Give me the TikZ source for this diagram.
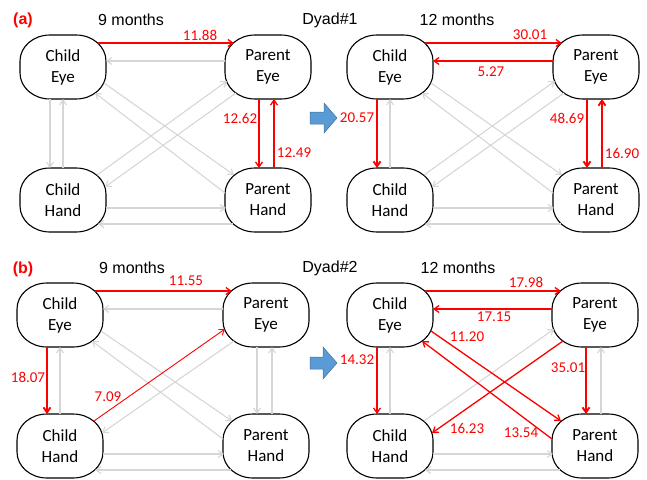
\documentclass[tikz,border=0pt]{standalone}
\usepackage{fontspec}
\setmainfont{Carlito}
\newfontfamily\arialf{Liberation Sans}
\usetikzlibrary{arrows.meta,calc}
\definecolor{edgered}{RGB}{255,0,0}
\definecolor{edgegray}{RGB}{214,214,214}
\definecolor{bluefill}{RGB}{91,155,213}
\definecolor{blueline}{RGB}{65,113,156}
\tikzset{
  state/.style={minimum width=86pt,minimum height=64pt,inner sep=0pt,align=center,font=\fontsize{17}{21}\selectfont},
  border/.style={draw=black,line width=1.1pt,fill=white},
  tip/.style={-{Straight Barb[length=5pt,width=7pt]}},
  gr/.style={tip,draw=edgegray,line width=1.1pt},
  rd/.style={tip,draw=edgered,line width=1.3pt},
  rdthin/.style={tip,draw=edgered,line width=0.9pt},
  rdthick/.style={tip,draw=edgered,line width=1.9pt},
  lab/.style={text=edgered,font=\fontsize{15}{15}\selectfont,inner sep=0pt},
  ttl/.style={font=\arialf\fontsize{16}{16}\selectfont,inner sep=0pt},
  pnl/.style={text=edgered,font=\arialf\bfseries\fontsize{16}{16}\selectfont,inner sep=0pt},
  bigarrow/.style={fill=bluefill,draw=blueline,line width=0.5pt}
}
\newcommand\statenode[4]{%
  \coordinate (#1) at (#2,#3);
  \draw[border] ($(#1)+(-43,-6)$) .. controls ($(#1)+(-43,-20.4)$) and ($(#1)+(-29.6,-32)$) .. ($(#1)+(-13,-32)$)
    -- ($(#1)+(13,-32)$) .. controls ($(#1)+(29.6,-32)$) and ($(#1)+(43,-20.4)$) .. ($(#1)+(43,-6)$)
    -- ($(#1)+(43,6)$) .. controls ($(#1)+(43,20.4)$) and ($(#1)+(29.6,32)$) .. ($(#1)+(13,32)$)
    -- ($(#1)+(-13,32)$) .. controls ($(#1)+(-29.6,32)$) and ($(#1)+(-43,20.4)$) .. ($(#1)+(-43,6)$) -- cycle;
  \node[state] (#1) at (#2,#3) {#4};}
\newcommand\eTop[2]{\draw[#2] ($(#1CE)+(35,-24)$) -- ($(#1PE)+(-34,-24)$);}
\newcommand\eTopBack[2]{\draw[#2] ($(#1PE)+(-43,-6)$) -- ($(#1CE)+(43,-6)$);}
\newcommand\eLeftDown[2]{\draw[#2] ($(#1CE)+(-13,32)$) -- ($(#1CH)+(-13,-32)$);}
\newcommand\eLeftUp[2]{\draw[#2] ($(#1CH)+(0,-32)$) -- ($(#1CE)+(0,32)$);}
\newcommand\eRightDown[2]{\draw[#2] ($(#1PE)+(-9,32)$) -- ($(#1PH)+(-9,-32)$);}
\newcommand\eRightUp[2]{\draw[#2] ($(#1PH)+(6,-32)$) -- ($(#1PE)+(6,32)$);}
\newcommand\eBotRight[2]{\draw[#2] ($(#1CH)+(43,8)$) -- ($(#1PH)+(-42,8)$);}
\newcommand\eBotLeft[2]{\draw[#2] ($(#1PH)+(-35,24)$) -- ($(#1CH)+(35,24)$);}
\newcommand\eDiagA[2]{\draw[#2] ($(#1CE)+(41,16)$) -- ($(#1PH)+(-34,-25)$);}
\newcommand\eDiagB[2]{\draw[#2] ($(#1PH)+(-43,-7)$) -- ($(#1CE)+(32,26)$);}
\newcommand\eDiagC[2]{\draw[#2] ($(#1CH)+(34,-25)$) -- ($(#1PE)+(-41,14)$);}
\newcommand\eDiagD[2]{\draw[#2] ($(#1PE)+(-32,26)$) -- ($(#1CH)+(42,-13)$);}
\begin{document}
\begin{tikzpicture}[x=1pt,y=-1pt]
\useasboundingbox (0,0) rectangle (647,479);
% titles
\node[pnl] (ta) at (23,20) {(a)};
\node[ttl] (t9a) at (131,20) {9 months};
\node[ttl] (dy1) at (330,20) {Dyad\#1};
\node[ttl] (t12a) at (457,20) {12 months};
\node[pnl] (tb) at (23,269) {(b)};
\node[ttl] (t9b) at (132,268) {9 months};
\node[ttl] (dy2) at (330,268) {Dyad\#2};
\node[ttl] (t12b) at (458,268) {12 months};
% nodes
\statenode{ACE}{63}{67}{Child\\Eye}
\statenode{APE}{268}{67}{Parent\\Eye}
\statenode{ACH}{63}{200}{Child\\Hand}
\statenode{APH}{268}{200}{Parent\\Hand}
\statenode{BCE}{390}{67}{Child\\Eye}
\statenode{BPE}{596}{67}{Parent\\Eye}
\statenode{BCH}{390}{200}{Child\\Hand}
\statenode{BPH}{596}{200}{Parent\\Hand}
\statenode{CCE}{60}{315}{Child\\Eye}
\statenode{CPE}{266}{315}{Parent\\Eye}
\statenode{CCH}{60}{446}{Child\\Hand}
\statenode{CPH}{266}{446}{Parent\\Hand}
\statenode{DCE}{390}{315}{Child\\Eye}
\statenode{DPE}{595}{315}{Parent\\Eye}
\statenode{DCH}{390}{446}{Child\\Hand}
\statenode{DPH}{595}{446}{Parent\\Hand}
% blue arrows
\draw[bigarrow] (310,112) -- (324,112) -- (324,103) -- (337,118) -- (324,133) -- (324,124) -- (310,124) -- cycle;
\draw[bigarrow] (310,357) -- (323,357) -- (323,347) -- (337,363) -- (323,379) -- (323,369) -- (310,369) -- cycle;
% panel A (dyad 1, 9 months)
\eTopBack{A}{gr}\eLeftDown{A}{gr}\eLeftUp{A}{gr}\eBotRight{A}{gr}\eBotLeft{A}{gr}
\eDiagA{A}{gr}\eDiagB{A}{gr}\eDiagC{A}{gr}\eDiagD{A}{gr}
\eTop{A}{rd}\eRightDown{A}{rd}\eRightUp{A}{rd}
\node[lab] (la1) at (200,35) {11.88};
\node[lab] (la2) at (240,118) {12.62};
\node[lab] (la3) at (294,153) {12.49};
% panel B (dyad 1, 12 months)
\eLeftUp{B}{gr}\eBotRight{B}{gr}\eBotLeft{B}{gr}
\eDiagA{B}{gr}\eDiagB{B}{gr}\eDiagC{B}{gr}\eDiagD{B}{gr}
\eTop{B}{rd}\eTopBack{B}{rd}\eLeftDown{B}{rdthick}\eRightDown{B}{rdthick}\eRightUp{B}{rdthick}
\node[lab] (lb1) at (530,35) {30.01};
\node[lab] (lb2) at (491,72) {5.27};
\node[lab] (lb3) at (357,118) {20.57};
\node[lab] (lb4) at (567,118) {48.69};
\node[lab] (lb5) at (622,153) {16.90};
% panel C (dyad 2, 9 months)
\eTopBack{C}{gr}\eLeftUp{C}{gr}\eRightDown{C}{gr}\eRightUp{C}{gr}\eBotRight{C}{gr}\eBotLeft{C}{gr}
\eDiagA{C}{gr}\eDiagB{C}{gr}\eDiagD{C}{gr}
\eTop{C}{rd}\eLeftDown{C}{rdthick}\eDiagC{C}{rdthin}
\node[lab] (lc1) at (186,281) {11.55};
\node[lab] (lc2) at (28,377) {18.07};
\node[lab] (lc3) at (108,397) {7.09};
% panel D (dyad 2, 12 months)
\eLeftUp{D}{gr}\eRightUp{D}{gr}\eBotRight{D}{gr}\eBotLeft{D}{gr}\eDiagC{D}{gr}
\eTop{D}{rd}\eTopBack{D}{rd}\eLeftDown{D}{rd}\eRightDown{D}{rdthick}
\eDiagA{D}{rd}\eDiagB{D}{rd}\eDiagD{D}{rd}
\node[lab] (ld1) at (526,282) {17.98};
\node[lab] (ld2) at (494,317) {17.15};
\node[lab] (ld3) at (467,337) {11.20};
\node[lab] (ld4) at (521,433) {13.54};
\node[lab] (ld5) at (467,428) {16.23};
\node[lab] (ld6) at (357,360) {14.32};
\node[lab] (ld7) at (568,368) {35.01};
\end{tikzpicture}
\end{document}
